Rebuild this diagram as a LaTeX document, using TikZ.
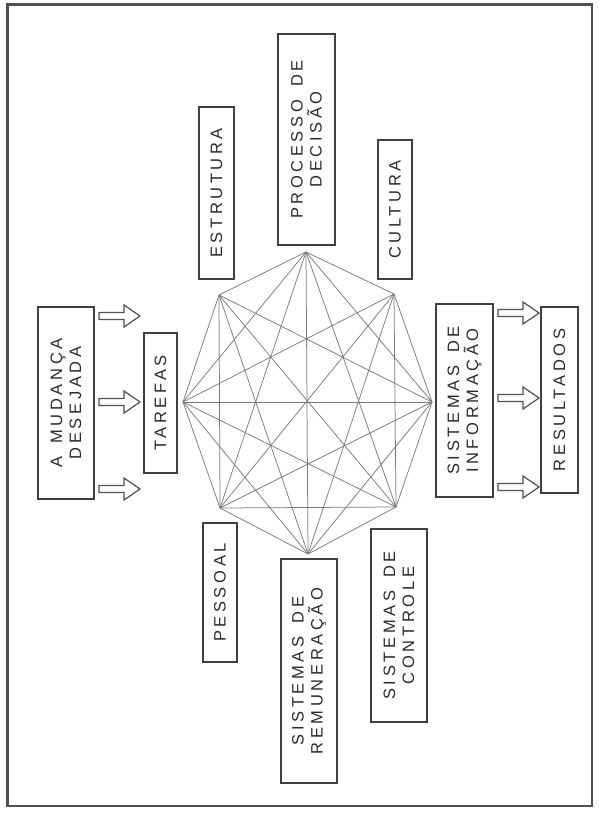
\documentclass[tikz,border=0pt]{standalone}
\usepackage{fontspec}
\newfontfamily\boxfont[LetterSpace=22,WordSpace=1.6]{Liberation Sans}
\definecolor{boxline}{HTML}{404040}
\definecolor{txt}{HTML}{2A2A2A}
\definecolor{webline}{HTML}{7A7A7A}
\definecolor{frameline}{HTML}{505050}
\begin{document}
\begin{tikzpicture}[x=1pt,y=-1pt,
  lbl/.style={draw=boxline, line width=1.7pt, rotate=90, inner sep=0pt,
    text=txt, align=center, font=\boxfont\fontsize{16.5}{19}\selectfont},
  web/.style={draw=webline, line width=0.75pt},
  blockarrow/.pic={\draw[draw=frameline, line width=1.2pt, fill=white, line join=miter]
    (0,-3.5) -- (25,-3.5) -- (25,-11) -- (41,0) -- (25,11) -- (25,3.5) -- (0,3.5) -- cycle;}
]
\useasboundingbox (0,0) rectangle (599,821);
\draw[draw=frameline, line width=2.6pt] (7.5,4.5) rectangle (592,806);

% octagon vertices
\coordinate (v1) at (306,252);
\coordinate (v2) at (394,294);
\coordinate (v3) at (432,402);
\coordinate (v4) at (396,507);
\coordinate (v5) at (308,554);
\coordinate (v6) at (220,508);
\coordinate (v7) at (183,402);
\coordinate (v8) at (219,295);
\foreach \a/\b in {1/2,1/3,1/4,1/5,1/6,1/7,1/8,2/3,2/4,2/5,2/6,2/7,3/4,3/5,3/6,3/7,3/8,4/5,4/6,4/7,4/8,5/6,5/7,5/8,6/7,6/8,7/8}
  \draw[web] (v\a) -- (v\b);

% boxes (minimum width = length along the text, minimum height = across)
\node[lbl, minimum width=172pt, minimum height=35pt] (estr) at (216.5,193) {ESTRUTURA};
\node[lbl, minimum width=211pt, minimum height=57pt] (proc) at (306.5,139.5) {PROCESSO DE\\DECISÃO};
\node[lbl, minimum width=139pt, minimum height=34pt] (cult) at (395,209.5) {CULTURA};
\node[lbl, minimum width=192pt, minimum height=56pt] (mud) at (66,403) {A MUDANÇA\\DESEJADA};
\node[lbl, minimum width=140pt, minimum height=33pt] (tar) at (160.5,403) {TAREFAS};
\node[lbl, minimum width=193pt, minimum height=57pt] (info) at (464.5,400.5) {SISTEMAS DE\\INFORMAÇÃO};
\node[lbl, minimum width=186pt, minimum height=37pt] (res) at (559.5,400) {RESULTADOS};
\node[lbl, minimum width=139pt, minimum height=34pt] (pess) at (220,592.5) {PESSOAL};
\node[lbl, minimum width=224pt, minimum height=56pt] (rem) at (309,671) {SISTEMAS DE\\REMUNERAÇÃO};
\node[lbl, minimum width=193pt, minimum height=56pt] (ctrl) at (399,625.5) {SISTEMAS DE\\CONTROLE};

% block arrows
\coordinate (la1) at (99,316);
\coordinate (la2) at (99,402);
\coordinate (la3) at (99,489);
\coordinate (ra1) at (498,313);
\coordinate (ra2) at (498,398);
\coordinate (ra3) at (498,487);
\foreach \p in {la1,la2,la3,ra1,ra2,ra3}
  \pic at (\p) {blockarrow};
\end{tikzpicture}
\end{document}
